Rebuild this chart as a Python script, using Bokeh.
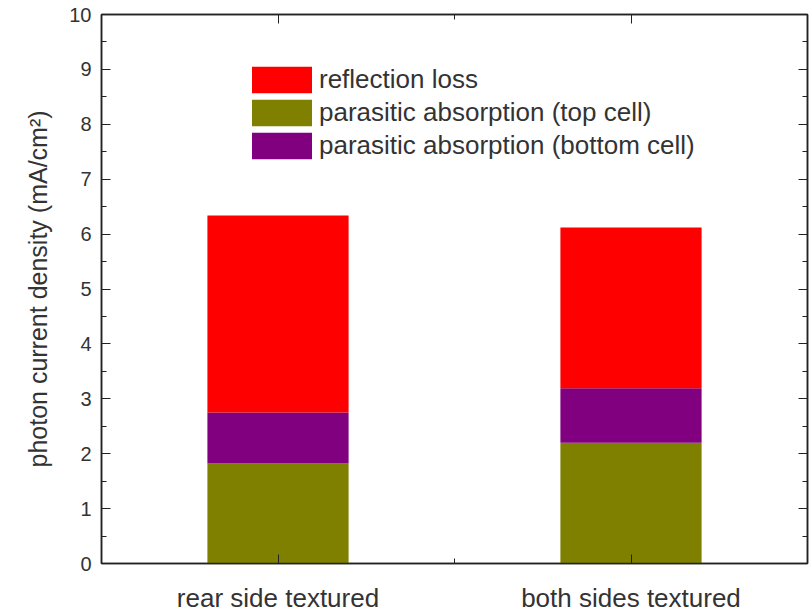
from bokeh.plotting import figure
from bokeh.models import ColumnDataSource, FixedTicker, LinearAxis, Range1d, Legend, LegendItem
from bokeh.embed import file_html
from bokeh.resources import INLINE

# ---- data ----
categories = ["rear side textured", "both sides textured"]
positions = [1, 2]
top_cell = [1.82, 2.20]       # parasitic absorption (top cell)
bottom_cell = [0.93, 0.99]    # parasitic absorption (bottom cell)
reflection = [3.59, 2.93]     # reflection loss
y_ticks = list(range(0, 11))
y_minor = [i + 0.5 for i in range(0, 10)]

src = ColumnDataSource(dict(x=positions, top_cell=top_cell,
                            bottom_cell=bottom_cell, reflection=reflection))

FONT = "Liberation Sans"
AX = "#222222"
TXT = "#333333"

p = figure(width=811, height=615, output_backend="svg", toolbar_location=None,
           x_range=Range1d(0.5, 2.5), y_range=Range1d(0, 10),
           min_border_left=101, min_border_top=14, min_border_right=4,
           min_border_bottom=52)
p.grid.visible = False
p.outline_line_color = AX
p.outline_line_width = 1.5

rs = p.vbar_stack(["top_cell", "bottom_cell", "reflection"], x="x", width=0.4,
                  fill_color=["#808000", "#800080", "#ff0000"], line_color=None,
                  source=src)

def style(ax, labels=True):
    ax.axis_line_color = AX
    ax.axis_line_width = 1.5
    ax.major_tick_line_color = AX
    ax.minor_tick_line_color = AX
    ax.major_tick_in = 9
    ax.major_tick_out = 0
    ax.minor_tick_in = 5
    ax.minor_tick_out = 0
    if not labels:
        ax.major_label_standoff = 0
        ax.major_label_text_font_size = "1px"

# x axis
xa = p.xaxis[0]
xa.ticker = FixedTicker(ticks=positions, minor_ticks=[1.5])
xa.major_label_overrides = {pos: c for pos, c in zip(positions, categories)}
style(xa)
xa.major_label_text_font = FONT
xa.major_label_text_font_size = "26px"
xa.major_label_text_color = TXT
xa.major_label_standoff = 19

# y axis
ya = p.yaxis[0]
ya.ticker = FixedTicker(ticks=y_ticks, minor_ticks=y_minor)
style(ya)
ya.major_label_text_font = FONT
ya.major_label_text_font_size = "20px"
ya.major_label_text_color = TXT
ya.major_label_standoff = 10
ya.axis_label = "photon current density (mA/cm²)"
ya.axis_label_text_font = FONT
ya.axis_label_text_font_size = "25px"
ya.axis_label_text_font_style = "normal"
ya.axis_label_text_color = TXT
ya.axis_label_standoff = 14

# mirror axes (ticks only)
top = LinearAxis(ticker=FixedTicker(ticks=positions, minor_ticks=[1.5]))
style(top, labels=False)
top.major_label_overrides = {pos: "" for pos in positions}
p.add_layout(top, "above")
right = LinearAxis(ticker=FixedTicker(ticks=y_ticks, minor_ticks=y_minor))
style(right, labels=False)
right.major_label_overrides = {t: "" for t in y_ticks}
p.add_layout(right, "right")

legend = Legend(items=[
    LegendItem(label="reflection loss", renderers=[rs[2]]),
    LegendItem(label="parasitic absorption (top cell)", renderers=[rs[0]]),
    LegendItem(label="parasitic absorption (bottom cell)", renderers=[rs[1]]),
], location=(143, 401), glyph_width=75, glyph_height=33, spacing=0,
    padding=0, margin=0, border_line_alpha=0, background_fill_alpha=0,
    label_standoff=0, label_text_font=FONT, label_text_font_size="26px",
    label_text_color=TXT, label_height=30)
p.add_layout(legend)

open("out.html", "w").write(file_html(p, INLINE))
